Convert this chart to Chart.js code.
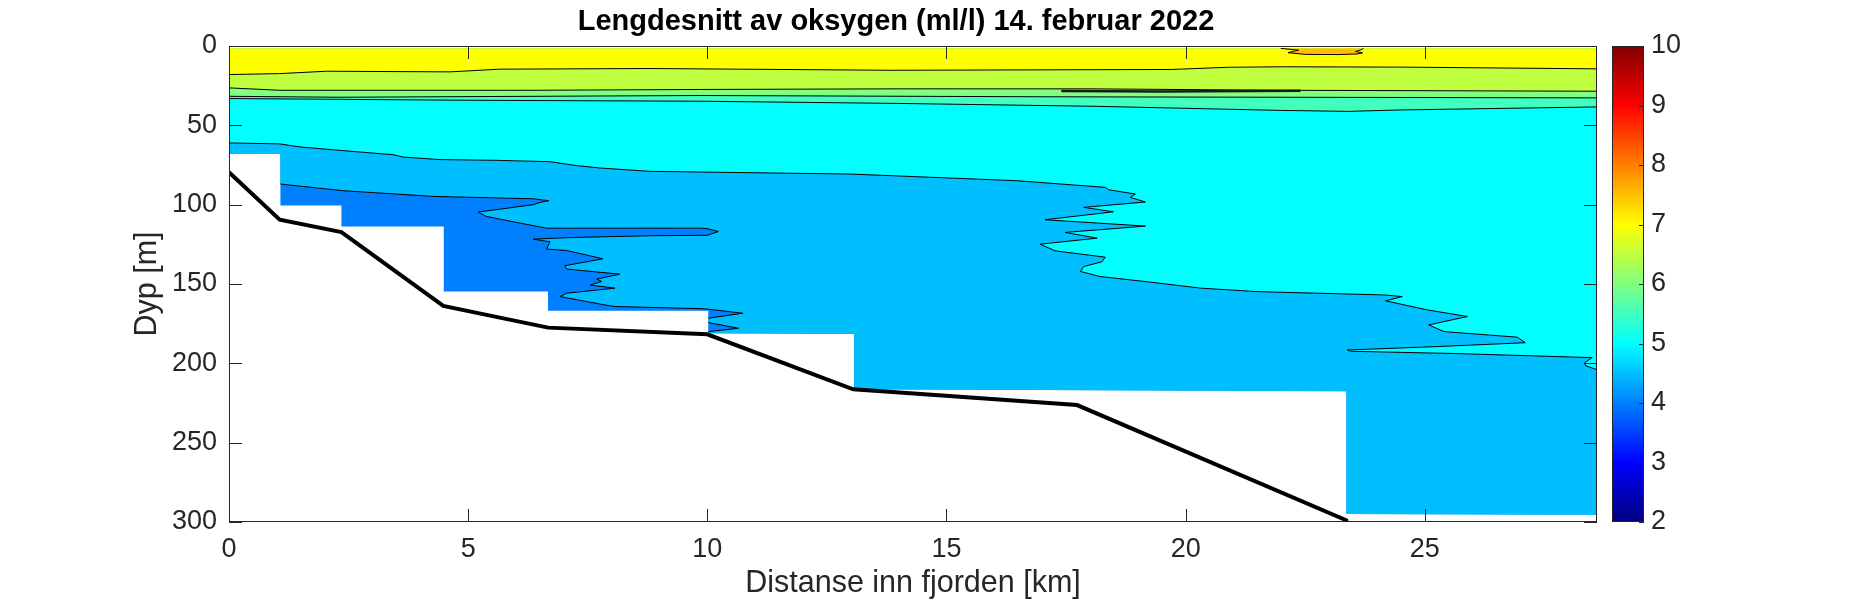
<!DOCTYPE html>
<html>
<head>
<meta charset="utf-8">
<script src="https://cdn.jsdelivr.net/npm/chart.js@4.4.1/dist/chart.umd.min.js"></script>
<style>
  html, body { margin: 0; padding: 0; background: #fff; }
  #wrap { width: 1852px; height: 604px; }
</style>
</head>
<body>
<div id="wrap"><canvas id="oxygen-section" width="1852" height="604"></canvas></div>
<script>
const ctx = document.getElementById("oxygen-section");

// all points are [distance km, depth m]
const xTicks = [0, 5, 10, 15, 20, 25];
const yTicks = [0, 50, 100, 150, 200, 250, 300];
const cbTicks = [2, 3, 4, 5, 6, 7, 8, 9, 10];

// bottom profile (thick black line)
const bottomLine = [
  [0, 79.6], [1.06, 109.5], [2.35, 117.3], [4.48, 163.8], [6.67, 177.5],
  [10.0, 181.7], [13.05, 216.4], [17.73, 226.3], [23.36, 298.9],
];

// deepest measured depth of the gridded data (stepwise)
const dataBottom = [
  [0, 68], [1.075, 68], [1.075, 100.5], [2.35, 100.5], [2.35, 113.7],
  [4.49, 113.7], [4.49, 154.7], [6.67, 154.7], [6.67, 166.8], [10.02, 166.8],
  [10.02, 181], [13.07, 181.5], [13.07, 216.4], [23.36, 217.6], [23.36, 295],
  [28.6, 295.5],
];

// contour 4.5 (between 4.0 and 4.5 bands)
const c40 = [
  [1.075, 87.0], [2.385, 91.2], [4.27, 94.8], [6.36, 96.3], [6.69, 97.5],
  [6.5, 98.6], [6.36, 100.0], [5.21, 104.7], [5.38, 107.4], [6.08, 111.6],
  [6.64, 114.8], [9.85, 114.8], [10.0, 115.1], [10.23, 116.9], [10.0, 119.3],
  [8.8, 119.6], [7.16, 120.7], [6.36, 121.7], [6.71, 123.4], [6.64, 128.0],
  [7.06, 128.9], [7.82, 134.1], [7.02, 138.5], [7.06, 140.6], [8.17, 143.8],
  [7.69, 146.9], [7.79, 148.4], [7.55, 150.7], [8.07, 152.6], [7.06, 155.8],
  [6.92, 157.9], [7.86, 163.2], [8.07, 164.2], [9.85, 165.5], [10.02, 165.9],
  [10.74, 168.4], [10.02, 171.6], [10.02, 174.3], [10.65, 177.9], [10.02, 180.0],
];

// contour 5.0
const c45 = [
  [0, 61.1], [1.06, 61.7], [1.48, 63.6], [2.32, 65.8], [3.43, 68.5], [3.64, 70.0],
  [4.41, 71.6], [5.66, 72.1], [6.71, 72.9], [7.27, 75.4], [7.76, 76.9], [8.8, 79.0],
  [12.98, 80.7], [16.47, 84.9], [18.32, 89.1], [18.39, 90.6], [18.95, 93.3],
  [18.84, 95.4], [19.16, 98.3], [17.87, 101.7], [18.49, 104.5], [17.06, 109.5],
  [19.16, 113.5], [17.48, 117.5], [18.15, 121.1], [16.96, 124.9], [17.27, 129.1],
  [18.32, 133.1], [18.25, 136.0], [17.87, 139.0], [17.8, 142.1], [18.21, 145.3],
  [19.26, 148.8], [20.31, 152.6], [21.49, 154.8], [24.14, 156.9], [24.53, 157.9],
  [24.18, 160.6], [25.05, 166.3], [25.89, 170.5], [25.08, 175.8], [25.4, 180.0],
  [26.93, 183.5], [27.1, 187.0], [25.3, 189.4], [23.38, 191.6], [23.45, 192.4],
  [25.6, 193.8], [28.5, 196.4], [28.34, 199.6], [28.36, 201.5], [28.6, 204.0],
];

// contour 5.5
const c50 = [
  [0, 33.1], [5.0, 34.2], [9.85, 34.8], [14, 36.2], [18.1, 38.0], [22, 40.6],
  [23.4, 41.2], [24.5, 40.3], [28.6, 38.4],
];

// contour 6.0
const c55 = [[0, 31.7], [2.3, 32.3], [9.85, 31.2], [17, 32.0], [22, 32.3], [28.6, 32.7]];

// contour 6.5
const c60 = [
  [0, 26.4], [1.06, 27.9], [6.4, 27.9], [9.85, 27.4], [14, 27.0], [18, 27.0],
  [22, 27.9], [28.6, 28.5],
];

// contour 7.0
const c65 = [
  [0, 18.0], [1.06, 17.4], [2.04, 15.9], [4.62, 16.3], [5.66, 14.6], [8.8, 14.2],
  [13.84, 15.3], [19.7, 14.8], [20.9, 13.4], [22.0, 13.1], [24.5, 13.3], [28.6, 14.4],
];

// contour 7.5 (small patch near the surface)
const c70 = [
  [21.99, 1.5], [22.36, 2.6], [22.14, 4.2], [22.5, 5.3], [23.2, 5.4], [23.6, 5.0],
  [23.7, 4.3], [23.55, 3.5], [23.66, 2.5], [23.72, 1.5],
];

// very thin closed contour around 28 m
const thinBand = [[17.4, 28.4], [19.5, 28.6], [22.4, 28.2]];

const surface = 1.5; // top of the gridded data

const pts = (arr) => arr.map(([x, y]) => ({ x, y }));
const layer40 = [...dataBottom.slice(0, 2), ...c40, ...dataBottom.slice(10)];

function band(data, color, order, stroke = true) {
  return {
    data: pts(data),
    order,
    backgroundColor: color,
    borderColor: "#000",
    borderWidth: stroke ? 1 : 0,
    fill: { value: surface },
    pointRadius: 0,
    tension: 0,
  };
}

Chart.defaults.font.family = "'Liberation Sans', Arial, Helvetica, sans-serif";
Chart.defaults.color = "#262626";

const matlabAxes = {
  id: "matlabAxes",
  afterDatasetsDraw(chart) {
    const { ctx: c, chartArea: a, scales } = chart;
    const { x, y, cb } = scales;
    const tl = 13;
    c.save();
    c.strokeStyle = "#262626";
    c.lineWidth = 1;
    c.beginPath();
    xTicks.forEach((v) => {
      const px = Math.round(x.getPixelForValue(v)) + 0.5;
      c.moveTo(px, a.bottom); c.lineTo(px, a.bottom - tl);
      c.moveTo(px, a.top); c.lineTo(px, a.top + tl);
    });
    yTicks.forEach((v) => {
      const py = Math.round(y.getPixelForValue(v)) + 0.5;
      c.moveTo(a.left, py); c.lineTo(a.left + tl, py);
      c.moveTo(a.right, py); c.lineTo(a.right - tl, py);
    });
    c.stroke();
    c.strokeRect(a.left + 0.5, a.top + 0.5, a.right - a.left - 1, a.bottom - a.top - 1);

    // colorbar (jet, 2..10)
    const cbL = 1612, cbW = 32;
    const top = cb.getPixelForValue(10), bot = cb.getPixelForValue(2);
    const g = c.createLinearGradient(0, bot, 0, top);
    g.addColorStop(0, "#000080");
    g.addColorStop(0.125, "#0000ff");
    g.addColorStop(0.375, "#00ffff");
    g.addColorStop(0.625, "#ffff00");
    g.addColorStop(0.875, "#ff0000");
    g.addColorStop(1, "#800000");
    c.fillStyle = g;
    c.fillRect(cbL, top, cbW, bot - top);
    c.strokeRect(cbL + 0.5, top + 0.5, cbW - 1, bot - top - 1);
    c.beginPath();
    cbTicks.forEach((v) => {
      const py = Math.round(cb.getPixelForValue(v)) + 0.5;
      c.moveTo(cbL + cbW, py); c.lineTo(cbL + cbW - 5, py);
    });
    c.stroke();
    c.restore();
  },
};

new Chart(ctx, {
  type: "line",
  data: {
    datasets: [
      {
        data: pts(bottomLine), order: 0, borderColor: "#000", borderWidth: 4,
        borderCapStyle: "round", fill: false, pointRadius: 0, tension: 0, clip: 0,
      },
      {
        data: pts(thinBand), order: 1, borderColor: "#1a1a1a", borderWidth: 2.5,
        fill: false, pointRadius: 0, tension: 0,
      },
      band(c70, "#ffbf00", 2),
      band(c65, "#ffff00", 3),
      band(c60, "#bfff40", 4),
      band(c55, "#80ff80", 5),
      band(c50, "#40ffbf", 6),
      band(c45, "#00ffff", 7),
      {
        data: pts(c40), order: 8, borderColor: "#000", borderWidth: 1, fill: false,
        pointRadius: 0, tension: 0,
        segment: { borderColor: (s) => (s.p0.parsed.x === s.p1.parsed.x ? "rgba(0,0,0,0)" : undefined) },
      },
      band(layer40, "#00bfff", 9, false),
      band(dataBottom, "#0080ff", 10, false),
    ],
  },
  options: {
    responsive: false,
    animation: false,
    devicePixelRatio: 1,
    events: [],
    layout: { padding: { left: 0, right: 60, top: 0, bottom: 0 } },
    plugins: {
      legend: { display: false },
      tooltip: { enabled: false },
      title: {
        display: true,
        text: "Lengdesnitt av oksygen (ml/l) 14. februar 2022",
        color: "#000",
        font: { size: 29, weight: "bold" },
        padding: { top: 5, bottom: 6.2 },
      },
    },
    scales: {
      x: {
        type: "linear", min: 0, max: 28.6,
        grid: { display: false, drawTicks: false }, border: { display: false },
        ticks: { includeBounds: false, padding: 11, font: { size: 27 } },
        afterBuildTicks: (s) => { s.ticks = xTicks.map((v) => ({ value: v })); },
        afterFit: (s) => { s.height = 82; },
        title: {
          display: true, text: "Distanse inn fjorden [km]",
          font: { size: 30.5 }, padding: { top: 0, bottom: 2.6 },
        },
      },
      y: {
        type: "linear", position: "left", reverse: true, min: 0, max: 300,
        grid: { display: false, drawTicks: false }, border: { display: false },
        ticks: { padding: 12, font: { size: 27 } },
        afterBuildTicks: (s) => { s.ticks = yTicks.map((v) => ({ value: v })); },
        afterFit: (s) => { s.width = 229; s.paddingTop = 16; s.paddingBottom = 16; },
        title: {
          display: true, text: "Dyp [m]",
          font: { size: 30.5 }, padding: { top: 129, bottom: 0 },
        },
      },
      cb: {
        type: "linear", axis: "y", position: "right", min: 2, max: 10,
        grid: { display: false, drawTicks: false }, border: { display: false },
        ticks: { padding: 54, font: { size: 27 } },
        afterBuildTicks: (s) => { s.ticks = cbTicks.map((v) => ({ value: v })); },
        afterFit: (s) => { s.width = 195; s.paddingTop = 16; s.paddingBottom = 16; },
      },
    },
  },
  plugins: [matlabAxes],
});
</script>
</body>
</html>
